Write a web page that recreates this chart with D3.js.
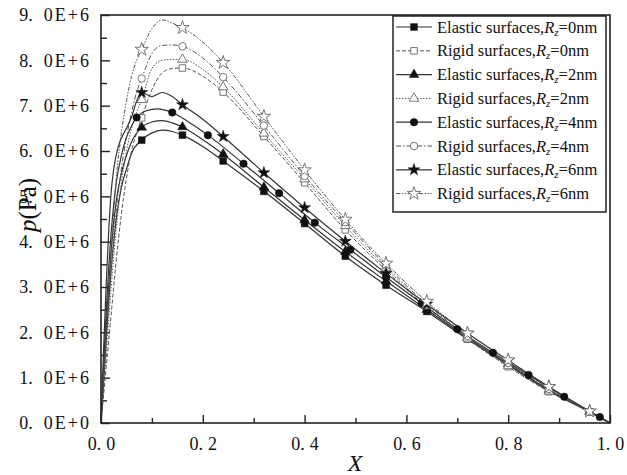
<!DOCTYPE html>
<html>
<head>
<meta charset="utf-8">
<script src="https://cdn.jsdelivr.net/npm/d3@7"></script>
<style>
  body { margin: 0; background: #fff; }
</style>
</head>
<body>
<svg id="chart" width="627" height="475"></svg>
<script>
// pressure curves, [X, p in 1E6 Pa]
const elastic0 = [[0,0],[0.01,1.8],[0.02,3.4],[0.03,4.5],[0.04,5.2],[0.05,5.6],[0.06,5.95],[0.08,6.24],[0.10,6.40],[0.12,6.46],[0.14,6.43],[0.16,6.35],[0.20,6.10],[0.24,5.78],[0.32,5.11],[0.40,4.40],[0.48,3.68],[0.56,3.04],[0.64,2.46],[0.72,1.85],[0.80,1.28],[0.88,0.71],[0.96,0.24],[1.0,0]];
const rigid0 = [[0,0],[0.01,1.2],[0.02,2.4],[0.03,3.6],[0.04,4.6],[0.05,5.4],[0.06,6.0],[0.07,6.4],[0.08,6.73],[0.10,7.35],[0.12,7.72],[0.14,7.82],[0.16,7.83],[0.20,7.65],[0.24,7.30],[0.32,6.32],[0.40,5.30],[0.48,4.26],[0.56,3.37],[0.64,2.55],[0.72,1.85],[0.80,1.24],[0.88,0.69],[0.96,0.25],[1.0,0]];
const elastic2 = [[0,0],[0.01,2.1],[0.02,3.8],[0.03,4.9],[0.04,5.5],[0.05,5.9],[0.06,6.2],[0.08,6.52],[0.10,6.64],[0.12,6.67],[0.14,6.62],[0.16,6.53],[0.20,6.25],[0.24,5.93],[0.32,5.20],[0.40,4.48],[0.48,3.78],[0.56,3.13],[0.64,2.50],[0.72,1.88],[0.80,1.30],[0.88,0.73],[0.96,0.25],[1.0,0]];
const rigid2 = [[0,0],[0.01,1.5],[0.02,3.0],[0.03,4.3],[0.04,5.3],[0.05,6.0],[0.06,6.5],[0.07,6.85],[0.08,7.13],[0.10,7.82],[0.12,8.0],[0.14,8.02],[0.16,8.02],[0.20,7.8],[0.24,7.41],[0.32,6.39],[0.40,5.38],[0.48,4.35],[0.56,3.42],[0.64,2.58],[0.72,1.87],[0.80,1.26],[0.88,0.70],[0.96,0.25],[1.0,0]];
const elastic4 = [[0,0],[0.01,2.4],[0.02,4.2],[0.03,5.3],[0.04,5.9],[0.05,6.3],[0.06,6.55],[0.07,6.74],[0.09,6.89],[0.11,6.93],[0.14,6.85],[0.175,6.62],[0.21,6.35],[0.28,5.72],[0.35,5.07],[0.42,4.42],[0.49,3.82],[0.56,3.22],[0.63,2.64],[0.70,2.07],[0.77,1.55],[0.84,1.06],[0.91,0.58],[0.98,0.13],[1.0,0]];
const rigid4 = [[0,0],[0.01,1.8],[0.02,3.4],[0.03,4.7],[0.04,5.6],[0.05,6.3],[0.06,6.85],[0.07,7.3],[0.08,7.6],[0.10,8.15],[0.12,8.33],[0.14,8.34],[0.16,8.31],[0.20,8.05],[0.24,7.63],[0.32,6.56],[0.40,5.45],[0.48,4.43],[0.56,3.47],[0.64,2.62],[0.72,1.92],[0.80,1.32],[0.88,0.75],[0.96,0.25],[1.0,0]];
const elastic6 = [[0,0],[0.005,1.6],[0.01,3.0],[0.015,4.2],[0.02,5.1],[0.025,5.6],[0.034,6.1],[0.05,6.5],[0.06,6.75],[0.07,7.1],[0.08,7.29],[0.10,7.2],[0.12,7.29],[0.14,7.2],[0.16,7.02],[0.20,6.7],[0.24,6.32],[0.32,5.52],[0.40,4.75],[0.48,4.01],[0.56,3.30],[0.64,2.62],[0.72,1.98],[0.80,1.38],[0.88,0.80],[0.96,0.26],[1.0,0]];
const rigid6 = [[0,0],[0.01,2.0],[0.02,3.8],[0.03,5.4],[0.04,6.4],[0.05,7.1],[0.06,7.65],[0.07,8.0],[0.08,8.24],[0.10,8.7],[0.12,8.89],[0.14,8.82],[0.16,8.72],[0.20,8.4],[0.24,7.95],[0.32,6.76],[0.40,5.58],[0.48,4.49],[0.56,3.52],[0.64,2.68],[0.72,1.98],[0.80,1.39],[0.88,0.80],[0.96,0.26],[1.0,0]];

// where the symbols sit along the curves
const marks8 = [0.08,0.16,0.24,0.32,0.40,0.48,0.56,0.64,0.72,0.80,0.88,0.96];
const marks7 = [0.07,0.14,0.21,0.28,0.35,0.42,0.49,0.56,0.63,0.70,0.77,0.84,0.91,0.98];

const xTicks = [0,0.2,0.4,0.6,0.8,1.0];
const yTicks = [0,1,2,3,4,5,6,7,8,9];

const series = [
  {kind:"Elastic", rz:0, data:elastic0, marks:marks8, sym:d3.symbolSquare,   size:46, open:false, dash:null},
  {kind:"Rigid",   rz:0, data:rigid0,   marks:marks8, sym:d3.symbolSquare,   size:42, open:true,  dash:"4,2"},
  {kind:"Elastic", rz:2, data:elastic2, marks:marks8, sym:d3.symbolTriangle, size:40, open:false, dash:null},
  {kind:"Rigid",   rz:2, data:rigid2,   marks:marks8, sym:d3.symbolTriangle, size:40, open:true,  dash:"1.5,1.5"},
  {kind:"Elastic", rz:4, data:elastic4, marks:marks7, sym:d3.symbolCircle,   size:44, open:false, dash:null},
  {kind:"Rigid",   rz:4, data:rigid4,   marks:marks8, sym:d3.symbolCircle,   size:44, open:true,  dash:"5,2,1.5,2"},
  {kind:"Elastic", rz:6, data:elastic6, marks:marks8, sym:d3.symbolStar,     size:44, open:false, dash:null},
  {kind:"Rigid",   rz:6, data:rigid6,   marks:marks8, sym:d3.symbolStar,     size:56, open:true,  dash:"4,1.5,1.5,1.5,1.5,1.5"}
];

const FONT = "'Liberation Serif', 'DejaVu Serif', serif";

const svg = d3.select("#chart");
const plotL = 101, plotR = 610, plotT = 15, plotB = 423;

const x = d3.scaleLinear().domain([0, 1]).range([plotL, plotR]);
const y = d3.scaleLinear().domain([0, 9]).range([plotB, plotT]);

// split "9.0" so the gap after the dot looks like the original
function splitLabel(sel, tail, gap, spacing) {
  sel.each(function(d) {
    const t = d3.select(this);
    const s = d3.format(".1f")(d).split(".");
    t.text(null);
    t.append("tspan").text(s[0] + ".");
    t.append("tspan").attr("dx", gap).style("letter-spacing", spacing + "px").text(s[1] + tail(d));
  });
}

// axes, ticks pointing inwards
svg.append("g")
  .attr("transform", `translate(0,${plotB})`)
  .call(d3.axisBottom(x).tickValues([0.1,0.3,0.5,0.7,0.9]).tickSize(-5).tickFormat(""))
  .call(g => g.select(".domain").remove());
svg.append("g")
  .attr("transform", `translate(0,${plotB})`)
  .call(d3.axisBottom(x).tickValues(xTicks).tickSize(-8).tickPadding(14))
  .call(g => g.select(".domain").remove())
  .call(g => g.selectAll("text").attr("font-size", 18).call(splitLabel, () => "", 5, 0));

svg.append("g")
  .attr("transform", `translate(${plotL},0)`)
  .call(d3.axisLeft(y).tickValues([0.5,1.5,2.5,3.5,4.5,5.5,6.5,7.5,8.5]).tickSize(-6).tickFormat(""))
  .call(g => g.select(".domain").remove());
svg.append("g")
  .attr("transform", `translate(${plotL},0)`)
  .call(d3.axisLeft(y).tickValues(yTicks).tickSize(-9).tickPadding(10))
  .call(g => g.select(".domain").remove())
  .call(g => g.selectAll("text").attr("font-size", 18)
    .call(splitLabel, d => d === 0 ? "E+0" : "E+6", 11, 2));

svg.selectAll(".tick line").attr("stroke", "#222").attr("stroke-width", 1.4);

// curves
const line = d3.line().x(d => x(d[0])).y(d => y(d[1])).curve(d3.curveMonotoneX);

const plot = svg.append("g");
series.forEach(s => {
  plot.append("path")
    .attr("d", line(s.data))
    .attr("fill", "none")
    .attr("stroke", s.open ? "#555" : "#333")
    .attr("stroke-width", s.open ? 1 : 1.2)
    .attr("stroke-dasharray", s.dash);
});

function drawSymbol(g, s, px, py) {
  g.append("path")
    .attr("d", d3.symbol().type(s.sym).size(s.size)())
    .attr("transform", `translate(${px},${py})`)
    .attr("fill", s.open ? "#fff" : "#111")
    .attr("stroke", s.open ? "#666" : "#111")
    .attr("stroke-width", s.open ? 0.9 : 0.5);
}

series.forEach(s => {
  s.data.filter(d => s.marks.some(m => Math.abs(m - d[0]) < 1e-6))
    .forEach(d => drawSymbol(plot, s, x(d[0]), y(d[1])));
});

// frame
svg.append("rect")
  .attr("x", plotL).attr("y", plotT)
  .attr("width", plotR - plotL).attr("height", plotB - plotT)
  .attr("fill", "none").attr("stroke", "#222").attr("stroke-width", 1.6);

// legend
const lg = svg.append("g");
lg.append("rect")
  .attr("x", 393).attr("y", 16).attr("width", 213).attr("height", 196)
  .attr("fill", "#fff").attr("stroke", "#222").attr("stroke-width", 1.5);

series.forEach((s, i) => {
  const ly = 27 + i * 23.8;
  lg.append("line")
    .attr("x1", 396).attr("x2", 432).attr("y1", ly).attr("y2", ly)
    .attr("stroke", s.open ? "#555" : "#333")
    .attr("stroke-width", s.open ? 1 : 1.2)
    .attr("stroke-dasharray", s.dash);
  drawSymbol(lg, s, 414, ly);
  const t = lg.append("text").attr("x", 437).attr("y", ly + 5.5).attr("font-size", 16.5);
  t.append("tspan").text(s.kind + " surfaces,");
  t.append("tspan").attr("font-style", "italic").text("R");
  t.append("tspan").attr("font-style", "italic").attr("font-size", 11).attr("dy", 3).text("z");
  t.append("tspan").attr("dy", -3).text("=" + s.rz + "nm");
});

// axis titles
svg.append("text")
  .attr("x", 355).attr("y", 471)
  .attr("text-anchor", "middle").attr("font-size", 24).attr("font-style", "italic")
  .text("X");

const yt = svg.append("text")
  .attr("transform", "translate(36,205) rotate(-90)")
  .attr("text-anchor", "middle").attr("font-size", 25);
yt.append("tspan").attr("font-style", "italic").text("p");
yt.append("tspan").text("(Pa)");

svg.selectAll("text").attr("font-family", FONT).style("font-family", FONT).attr("fill", "#111");
</script>
</body>
</html>
